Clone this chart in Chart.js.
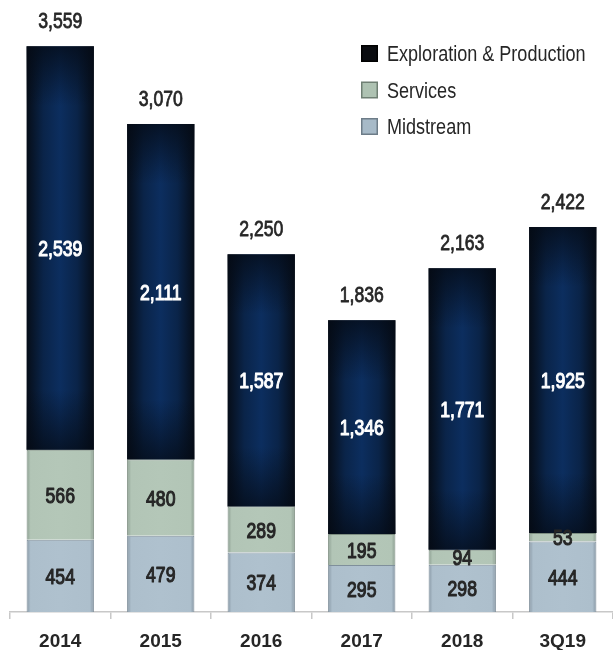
<!DOCTYPE html>
<html>
<head>
<meta charset="utf-8">
<script src="https://cdn.jsdelivr.net/npm/chart.js@4.4.1/dist/chart.umd.min.js"></script>
<style>
  html, body { margin: 0; padding: 0; background: #fff; overflow: hidden; }
  #wrap { width: 613px; height: 650px; position: relative; }
</style>
</head>
<body>
<div id="wrap"><canvas id="c"></canvas></div>
<script>
// capex by segment, stacked bottom-up
const years = ['2014', '2015', '2016', '2017', '2018', '3Q19'];
const midstream = [454, 479, 374, 295, 298, 444];
const services = [566, 480, 289, 195, 94, 53];
const exploration = [2539, 2111, 1587, 1346, 1771, 1925];
const totals = [3559, 3070, 2250, 1836, 2163, 2422];

const FONT = "'Liberation Sans', Arial, sans-serif";
const NARROW = 0.82;   // squeeze text horizontally, like a condensed face
const BAR_PCT = 0.67;

// horizontal shading across each bar: dark edges, lighter middle
function barShade(stops) {
  return (ctx) => {
    const chart = ctx.chart;
    const xs = chart.scales.x;
    if (!chart.chartArea || !xs || ctx.type !== 'data') return stops[2][1];
    const cx = xs.getPixelForValue(ctx.dataIndex);
    const w = xs.width / years.length * BAR_PCT;
    const g = chart.ctx.createLinearGradient(cx - w / 2, 0, cx + w / 2, 0);
    stops.forEach(([p, c]) => g.addColorStop(p, c));
    return g;
  };
}

const epShade = barShade([[0, '#060d18'], [0.25, '#0a2449'], [0.5, '#0c2e5f'], [0.75, '#0a2449'], [1, '#060d18']]);
const svShade = barShade([[0, '#8c9e91'], [0.06, '#b2c5b6'], [0.5, '#b4c7b8'], [0.94, '#b2c5b6'], [1, '#8c9e91']]);
const mdShade = barShade([[0, '#8797a4'], [0.06, '#adbfcc'], [0.5, '#afc1ce'], [0.94, '#adbfcc'], [1, '#8797a4']]);

// darker top and bottom of the E&P blocks
const epVignette = {
  id: 'epVignette',
  afterDatasetDraw(chart, args) {
    if (args.index !== 2) return;
    const ctx = chart.ctx;
    args.meta.data.forEach(bar => {
      const top = bar.y, bottom = bar.base, h = bottom - top;
      const g = ctx.createLinearGradient(0, top, 0, bottom);
      g.addColorStop(0, 'rgba(4,10,20,0.75)');
      g.addColorStop(Math.min(0.5, 60 / h), 'rgba(4,10,20,0)');
      g.addColorStop(Math.max(0.5, 1 - 60 / h), 'rgba(4,10,20,0)');
      g.addColorStop(1, 'rgba(4,10,20,0.7)');
      ctx.save();
      ctx.fillStyle = g;
      ctx.fillRect(bar.x - bar.width / 2, top, bar.width, h);
      ctx.restore();
    });
  }
};

// condensed-looking text; a thin outline gives a medium weight
function narrowText(ctx, text, x, y, weight) {
  ctx.save();
  ctx.translate(x, y);
  ctx.scale(NARROW, 1);
  ctx.fillText(text, 0, 0);
  if (weight) {
    ctx.strokeStyle = ctx.fillStyle;
    ctx.lineWidth = weight;
    ctx.lineJoin = 'round';
    ctx.strokeText(text, 0, 0);
  }
  ctx.restore();
}

// segment values inside the bars, totals above
const valueLabels = {
  id: 'valueLabels',
  afterDatasetsDraw(chart) {
    const ctx = chart.ctx;
    ctx.save();
    ctx.textAlign = 'center';
    ctx.textBaseline = 'alphabetic';
    ctx.font = '21.5px ' + FONT;
    chart.data.datasets.forEach((ds, di) => {
      const meta = chart.getDatasetMeta(di);
      ctx.fillStyle = di === 2 ? '#ffffff' : '#262626';
      meta.data.forEach((bar, i) => {
        const y = (bar.y + bar.base) / 2 + 8;
        narrowText(ctx, ds.data[i].toLocaleString('en-US'), bar.x, y, 1.1);
      });
    });
    const top = chart.getDatasetMeta(2);
    ctx.fillStyle = '#262626';
    top.data.forEach((bar, i) => {
      narrowText(ctx, totals[i].toLocaleString('en-US'), bar.x, bar.y - 18, 0.8);
    });
    ctx.restore();
  }
};

// legend box at top right
const sideLegend = {
  id: 'sideLegend',
  afterDraw(chart) {
    const ctx = chart.ctx;
    const items = [
      ['Exploration & Production', '#0a0c10', '#000000'],
      ['Services', '#aec2b2', '#6f7f73'],
      ['Midstream', '#a7bac8', '#6d7c88']
    ];
    ctx.save();
    ctx.font = '22px ' + FONT;
    ctx.textAlign = 'left';
    ctx.textBaseline = 'alphabetic';
    items.forEach(([text, fill, edge], i) => {
      const y = 53 + i * 36.5;
      ctx.fillStyle = edge;
      ctx.fillRect(361, y - 8, 17, 17);
      ctx.fillStyle = fill;
      ctx.fillRect(362.5, y - 6.5, 14, 14);
      ctx.fillStyle = '#262626';
      narrowText(ctx, text, 387, y + 8);
    });
    ctx.restore();
  }
};

new Chart(document.getElementById('c'), {
  type: 'bar',
  data: {
    labels: years,
    datasets: [
      { label: 'Midstream', data: midstream, backgroundColor: mdShade, borderColor: '#7f8f9b', borderWidth: 1, borderSkipped: 'bottom' },
      { label: 'Services', data: services, backgroundColor: svShade, borderColor: '#7d8e81', borderWidth: 1, borderSkipped: 'bottom' },
      { label: 'Exploration & Production', data: exploration, backgroundColor: epShade, borderWidth: 0 }
    ]
  },
  options: {
    responsive: true,
    maintainAspectRatio: false,
    animation: false,
    layout: { padding: { left: 10, right: 0, top: 0, bottom: 0 } },
    datasets: { bar: { barPercentage: BAR_PCT, categoryPercentage: 1 } },
    plugins: { legend: { display: false }, tooltip: { enabled: false } },
    scales: {
      x: {
        stacked: true,
        afterFit(scale) { scale.height = 38; },
        border: { color: '#c8c8c8', width: 1.5 },
        grid: { drawOnChartArea: false, drawTicks: true, tickLength: 7, color: '#c8c8c8', lineWidth: 1.5, offset: true },
        ticks: { color: '#262626', padding: 11, font: { family: FONT, size: 19, weight: 'bold' } }
      },
      y: { stacked: true, display: false, min: 0, max: 3850 }
    }
  },
  plugins: [epVignette, valueLabels, sideLegend]
});
</script>
</body>
</html>
